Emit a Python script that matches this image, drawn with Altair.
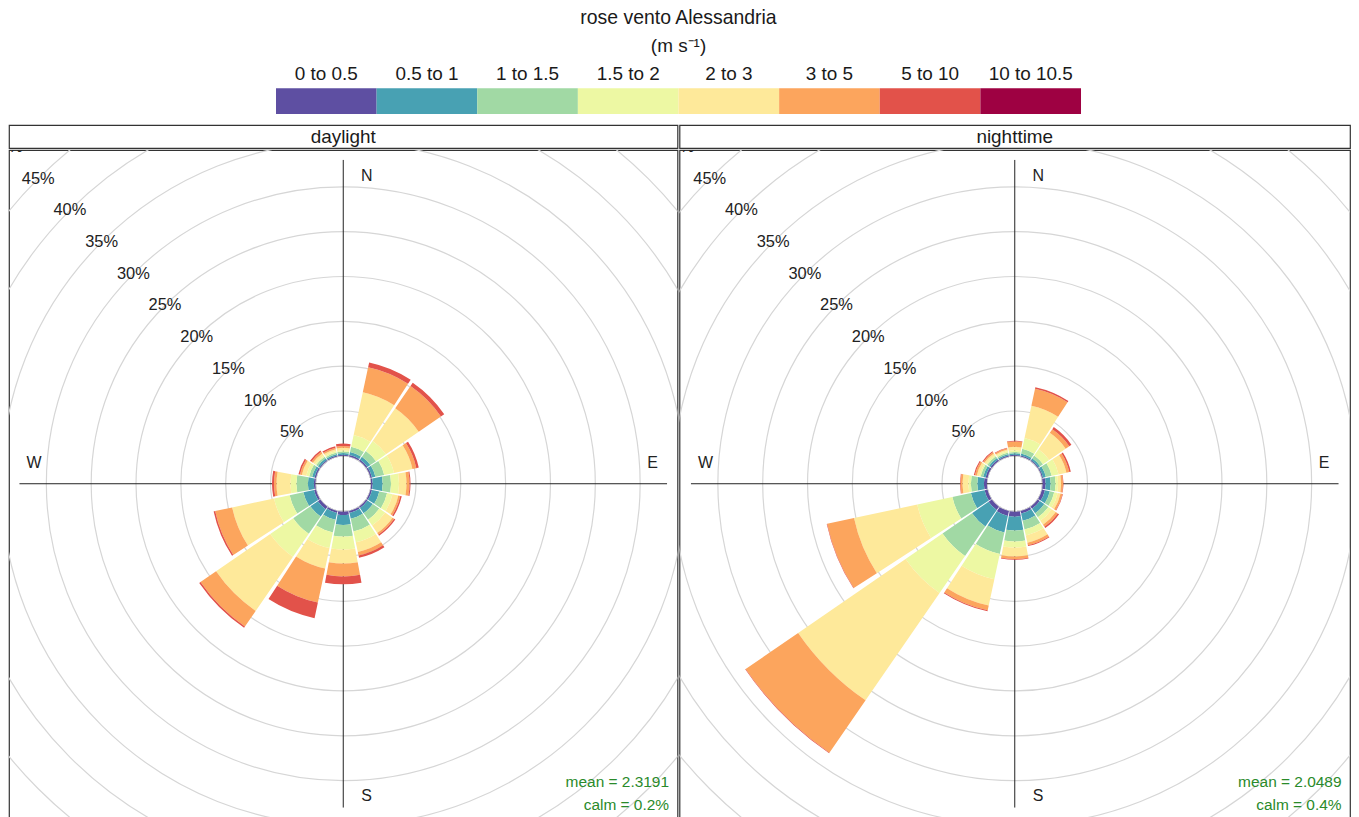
import math
import altair as alt
import pandas as pd

FONT = "Liberation Sans"

title_text = "rose vento Alessandria"
unit_text = "(m s\u207b\u00b9)"
bins = ["0 to 0.5", "0.5 to 1", "1 to 1.5", "1.5 to 2", "2 to 3", "3 to 5", "5 to 10", "10 to 10.5"]
bin_colors = ["#5E4FA2", "#48A1B3", "#A1D9A4", "#EDF8A3", "#FEE99A", "#FCA55D", "#E2524A", "#9E0142"]
directions = [0, 22.5, 45, 67.5, 90, 112.5, 135, 157.5, 180, 202.5, 225, 247.5, 270, 292.5, 315, 337.5]

# daylight: frequency (%) per direction for each speed bin
day_b0 = [0.11, 0.17, 0.17, 0.17, 0.17, 0.17, 0.17, 0.22, 0.37, 0.22, 0.33, 0.22, 0.17, 0.17, 0.11, 0.11]
day_b1 = [0.22, 0.33, 0.39, 0.39, 1.11, 0.83, 0.72, 0.67, 1.11, 0.78, 1.00, 1.22, 0.66, 0.27, 0.22, 0.17]
day_b2 = [0.15, 0.61, 0.77, 1.00, 0.94, 0.89, 0.89, 1.44, 1.30, 1.44, 2.34, 1.56, 1.28, 0.34, 0.23, 0.16]
day_b3 = [0.13, 1.33, 1.34, 1.11, 0.89, 0.61, 0.78, 1.23, 1.44, 1.78, 3.11, 1.78, 0.67, 0.33, 0.16, 0.17]
day_b4 = [0.28, 4.89, 4.44, 2.11, 0.83, 0.67, 1.00, 1.11, 1.56, 2.34, 7.33, 4.78, 1.55, 0.50, 0.28, 0.22]
day_b5 = [0.22, 2.84, 3.00, 0.44, 0.34, 0.22, 0.22, 0.39, 1.44, 3.88, 2.11, 1.94, 0.28, 0.22, 0.22, 0.17]
day_b6 = [0.26, 0.55, 0.45, 0.28, 0.11, 0.17, 0.16, 0.27, 0.89, 1.78, 0.17, 0.17, 0.22, 0.17, 0.17, 0.17]
day_b7 = [0, 0, 0, 0, 0, 0, 0, 0, 0, 0, 0, 0, 0, 0, 0, 0]

# nighttime
night_b0 = [0.11, 0.11, 0.11, 0.11, 0.33, 0.33, 0.28, 0.28, 0.56, 0.56, 0.44, 0.33, 0.33, 0.22, 0.17, 0.11]
night_b1 = [0.17, 0.22, 0.22, 0.33, 0.56, 0.56, 0.61, 0.83, 1.55, 1.88, 2.23, 1.56, 0.73, 0.28, 0.22, 0.17]
night_b2 = [0.16, 0.56, 0.39, 0.67, 0.55, 0.50, 0.55, 1.00, 1.22, 2.45, 4.00, 2.11, 0.72, 0.28, 0.22, 0.16]
night_b3 = [0.17, 1.22, 0.84, 0.78, 0.28, 0.39, 0.45, 0.67, 0.67, 2.89, 5.00, 4.00, 0.28, 0.16, 0.17, 0.17]
night_b4 = [0.39, 3.67, 2.22, 0.89, 0.34, 0.33, 0.55, 0.83, 1.00, 3.00, 14.55, 7.22, 0.66, 0.28, 0.22, 0.17]
night_b5 = [0.61, 1.94, 0.50, 0.33, 0.22, 0.22, 0.28, 0.28, 0.28, 0.55, 7.11, 3.06, 0.22, 0.22, 0.17, 0.16]
night_b6 = [0.08, 0.17, 0.28, 0.17, 0.05, 0.06, 0.17, 0.11, 0.08, 0.11, 0.06, 0.05, 0.06, 0.12, 0.11, 0.06]
night_b7 = [0, 0, 0, 0, 0, 0, 0, 0, 0, 0, 0, 0, 0, 0, 0, 0]

grid_pct = [5, 10, 15, 20, 25, 30, 35, 40, 45, 50]
grid_labels = ["5%", "10%", "15%", "20%", "25%", "30%", "35%", "40%", "45%", "50%"]
compass = ["N", "E", "S", "W"]

panels = [
    ("daylight", [day_b0, day_b1, day_b2, day_b3, day_b4, day_b5, day_b6, day_b7], "mean = 2.3191", "calm = 0.2%", 671),
    ("nighttime", [night_b0, night_b1, night_b2, night_b3, night_b4, night_b5, night_b6, night_b7], "mean = 2.0489", "calm = 0.4%", 673),
]

HALF = 10.45  # half angular width of a petal (deg)
PLOT_H = 670

theta_sc = alt.Scale(type="linear", domain=[0, 360], range=[0, 2 * math.pi])
r_sc = alt.Scale(type="linear", domain=[0, 50], range=[28, 478])
col_sc = alt.Scale(domain=bins, range=bin_colors)


def petal_frame(series):
    rows = []
    for i, d in enumerate(directions):
        cum = 0.0
        for b, vals in zip(bins, series):
            v = vals[i]
            if v <= 0:
                continue
            rows.append({"dir": d, "bin": b, "lo": cum, "hi": cum + v, "t0": d - HALF, "t1": d + HALF})
            cum += v
    return pd.DataFrame(rows)


def make_plot(series, mean_txt, calm_txt, w):
    cx, cy = w / 2, PLOT_H / 2
    one = pd.DataFrame({"a": [0]})
    grid = alt.Chart(pd.DataFrame({"pct": grid_pct})).mark_arc(
        filled=False, stroke="#d6d6d6", strokeWidth=1.2, clip=True
    ).encode(
        theta=alt.value(0), theta2=alt.value(2 * math.pi),
        radius=alt.Radius("pct:Q", scale=r_sc, stack=None),
    )
    vline = alt.Chart(one).mark_rule(color="#222", strokeWidth=1).encode(
        x=alt.value(cx), y=alt.value(cy - 325), y2=alt.value(cy + 325))
    hline = alt.Chart(one).mark_rule(color="#222", strokeWidth=1).encode(
        y=alt.value(cy), x=alt.value(cx - 325), x2=alt.value(cx + 325))
    petals = alt.Chart(petal_frame(series)).mark_arc(clip=True).encode(
        theta=alt.Theta("t0:Q", scale=theta_sc, stack=None),
        theta2="t1:Q",
        radius=alt.Radius("hi:Q", scale=r_sc, stack=None),
        radius2="lo:Q",
        color=alt.Color("bin:N", scale=col_sc, legend=None),
    )
    pl_df = pd.DataFrame({"pct": grid_pct, "lab": grid_labels, "ang": [315] * len(grid_pct)})
    pct_labels = alt.Chart(pl_df).mark_text(font=FONT, fontSize=16.5, color="#222", clip=True).encode(
        theta=alt.Theta("ang:Q", scale=theta_sc, stack=None),
        radius=alt.Radius("pct:Q", scale=r_sc, stack=None),
        text="lab:N",
    )
    comp_df = pd.DataFrame({
        "lab": compass,
        "px": [cx + 23.5, cx + 310.5, cx + 23.5, cx - 310.5],
        "py": [cy - 309, cy - 21, cy + 313, cy - 21],
    })
    comp = alt.Chart(comp_df).mark_text(font=FONT, fontSize=16, color="#222").encode(
        x=alt.X("px:Q", scale=None, axis=None),
        y=alt.Y("py:Q", scale=None, axis=None),
        text="lab:N",
    )
    stats_df = pd.DataFrame({"lab": [mean_txt, calm_txt], "py": [634, 657]})
    stats = alt.Chart(stats_df).mark_text(font=FONT, fontSize=15.5, color="#2a8a2a", align="right").encode(
        x=alt.value(w - 8.5),
        y=alt.Y("py:Q", scale=None, axis=None),
        text="lab:N",
    )
    return alt.layer(grid, vline, hline, petals, pct_labels, comp, stats).properties(width=w, height=PLOT_H)


def make_strip(label, w):
    return alt.Chart(pd.DataFrame({"t": [label]})).mark_text(
        font=FONT, fontSize=19, color="#1a1a1a", baseline="middle"
    ).encode(x=alt.value(w / 2), y=alt.value(11.5), text="t:N").properties(width=w, height=23)


# header: title + colour key
band = alt.Scale(type="band", domain=bins, range=[268, 1076], paddingInner=0, paddingOuter=0)
leg_df = pd.DataFrame({"bin": bins})
t1 = alt.Chart(pd.DataFrame({"t": [title_text]})).mark_text(
    font=FONT, fontSize=19.5, color="#1a1a1a", baseline="middle").encode(
    x=alt.value(672), y=alt.value(9.5), text="t:N")
t2 = alt.Chart(pd.DataFrame({"t": [unit_text]})).mark_text(
    font=FONT, fontSize=19, color="#1a1a1a", baseline="middle").encode(
    x=alt.value(672), y=alt.value(38), text="t:N")
rects = alt.Chart(leg_df).mark_rect().encode(
    x=alt.X("bin:N", scale=band, axis=None),
    y=alt.value(80), y2=alt.value(106),
    color=alt.Color("bin:N", scale=col_sc, legend=None),
)
leg_labels = alt.Chart(leg_df).mark_text(font=FONT, fontSize=19, color="#1a1a1a", baseline="middle").encode(
    x=alt.X("bin:N", scale=band, axis=None), y=alt.value(66), text="bin:N")
header = alt.layer(t1, t2, rects, leg_labels).properties(
    width=1344, height=116, view=alt.ViewBackground(strokeOpacity=0))

cols = []
for label, series, mean_txt, calm_txt, w in panels:
    cols.append(alt.vconcat(make_strip(label, w), make_plot(series, mean_txt, calm_txt, w), spacing=0))
row = alt.hconcat(*cols, spacing=0)

chart = alt.vconcat(header, row, spacing=0).properties(
    padding={"left": 0, "top": -2, "right": 0, "bottom": 0}
).configure_view(stroke="#333", strokeWidth=1.2)

chart.save("out.html", embed_options={"renderer": "svg", "actions": False})
